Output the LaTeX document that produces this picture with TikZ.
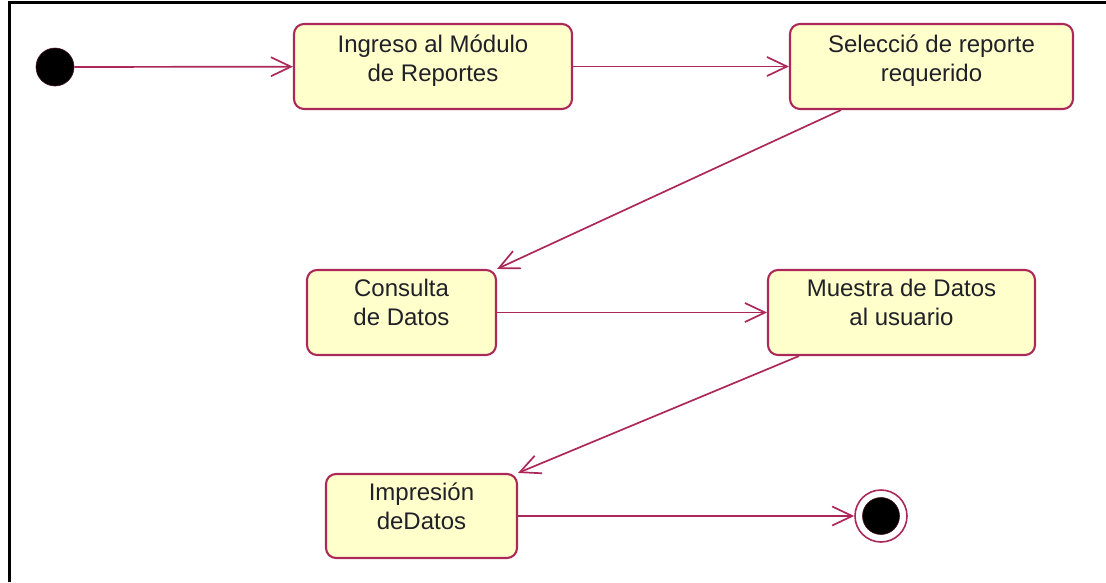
\documentclass[tikz,border=0pt]{standalone}
\usepackage{fontspec}
\setmainfont{Liberation Sans}
\usetikzlibrary{arrows.meta}
\definecolor{rose}{RGB}{172,40,88}
\definecolor{stfill}{RGB}{255,255,204}
\definecolor{txt}{RGB}{32,32,40}
\begin{document}
\begin{tikzpicture}[x=1pt,y=-1pt,
  statebox/.style={draw=rose, line width=2.1pt, fill=stfill, rounded corners=10pt, inner sep=0pt},
  stxt/.style={align=center, inner sep=0pt, anchor=north, text=txt, font=\fontsize{24}{29.5}\selectfont},
  conn/.style={draw=rose, line width=1.7pt, -{Straight Barb[length=20pt,width=19pt]}},
  frameline/.style={draw=black, line width=2.2pt}]
\useasboundingbox (0,0) rectangle (1106,582);
\draw[frameline] (9.5,582) -- (9.5,2.5) -- (1106,2.5);
% states
\node[statebox, minimum width=278, minimum height=85] (b1) at (433,66.5) {};
\node[statebox, minimum width=283, minimum height=85] (b2) at (931.5,66.5) {};
\node[statebox, minimum width=189, minimum height=85] (b3) at (401.5,312.5) {};
\node[statebox, minimum width=267, minimum height=85] (b4) at (901.5,312.5) {};
\node[statebox, minimum width=191, minimum height=84] (b5) at (421.5,516) {};
\node[stxt] (t1) at ([yshift=-6pt]b1.north) {\rule{0pt}{23pt}Ingreso al Módulo\\de Reportes};
\node[stxt] (t2) at ([yshift=-6pt]b2.north) {\rule{0pt}{23pt}Selecció de reporte\\requerido};
\node[stxt] (t3) at ([yshift=-4pt]b3.north) {\rule{0pt}{23pt}Consulta\\de Datos};
\node[stxt] (t4) at ([yshift=-4pt]b4.north) {\rule{0pt}{23pt}Muestra de Datos\\al usuario};
\node[stxt] (t5) at ([yshift=-4pt]b5.north) {\rule{0pt}{23pt}Impresión\\deDatos};
% initial and final
\node[circle, fill=black, draw=rose!40!black, line width=0.6pt, minimum size=38, inner sep=0pt] (s) at (55,67) {};
\node[circle, draw=rose, line width=1.6pt, fill=white, minimum size=52, inner sep=0pt] (e) at (881,516) {};
\node[circle, fill=black, draw=rose!40!black, line width=0.6pt, minimum size=37, inner sep=0pt] (ei) at (e) {};
% transitions
\draw[conn] (s) -- (b1);
\draw[conn] (b1) -- (b2);
\draw[conn] ([xshift=52pt]b2.south west) -- (b3.north east);
\draw[conn] (b3) -- (b4);
\draw[conn] ([xshift=32pt]b4.south west) -- (b5.north east);
\draw[conn] (b5) -- (e);
\end{tikzpicture}
\end{document}
